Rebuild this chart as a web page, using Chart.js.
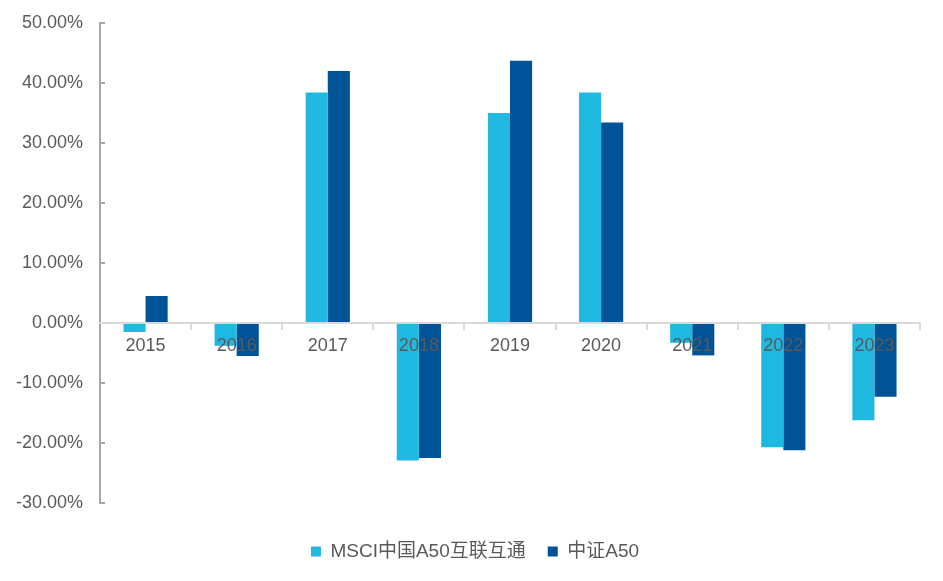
<!DOCTYPE html>
<html>
<head>
<meta charset="utf-8">
<script src="https://cdn.jsdelivr.net/npm/chart.js@4"></script>
<style>
html,body{margin:0;padding:0;background:#fff;}
#wrap{width:943px;height:581px;position:relative;}
</style>
</head>
<body>
<div id="wrap"><canvas id="c" width="943" height="581"></canvas></div>
<script>
const categories = ['2015','2016','2017','2018','2019','2020','2021','2022','2023'];
const msciA50 = [-1.5, -3.8, 38.4, -22.9, 35.0, 38.4, -3.3, -20.7, -16.2];
const csiA50 = [4.5, -5.5, 42.0, -22.5, 43.7, 33.4, -5.4, -21.2, -12.3];
const seriesNames = ['MSCI中国A50互联互通', '中证A50'];
const yTicks = [-30, -20, -10, 0, 10, 20, 30, 40, 50];

const font = {family: '"Liberation Sans", Arial, sans-serif', size: 18};
const legendFont = {family: '"Liberation Sans", Arial, "Noto Sans CJK SC", sans-serif', size: 19};
Chart.defaults.font = font;
Chart.defaults.color = '#595959';

new Chart(document.getElementById('c'), {
  type: 'bar',
  data: {
    labels: categories,
    datasets: [
      {label: seriesNames[0], data: msciA50, backgroundColor: '#1FB8E0', categoryPercentage: 0.485, barPercentage: 1},
      {label: seriesNames[1], data: csiA50, backgroundColor: '#005396', categoryPercentage: 0.485, barPercentage: 1}
    ]
  },
  options: {
    responsive: false,
    animation: false,
    layout: {padding: {top: 23, right: 0, left: 7, bottom: 10}},
    plugins: {
      legend: {
        position: 'bottom',
        labels: {boxWidth: 10, boxHeight: 10, padding: 22, font: legendFont, color: '#595959'}
      },
      tooltip: {enabled: false}
    },
    scales: {
      x: {
        position: {y: 0},
        offset: true,
        grid: {offset: true, drawOnChartArea: false, drawTicks: true, tickLength: 6, color: '#d9d9d9', lineWidth: 2},
        border: {color: '#d9d9d9', width: 2, z: 1},
        ticks: {padding: 6, font: font, color: '#595959', maxRotation: 0, z: 1}
      },
      x2: {
        type: 'linear',
        position: 'bottom',
        grid: {display: false},
        border: {display: false},
        ticks: {display: false},
        afterFit: (s) => { s.height = 17; }
      },
      y: {
        min: -30, max: 50,
        afterBuildTicks: (s) => { s.ticks = yTicks.map(v => ({value: v})); },
        afterFit: (s) => { s.width = 93; s.paddingTop = 11; s.paddingBottom = 11; },
        grid: {drawOnChartArea: false, drawTicks: true, tickLength: -5, color: '#a6a6a6', lineWidth: 2},
        border: {color: '#a6a6a6', width: 2},
        ticks: {padding: 22, font: font, color: '#595959', callback: (v) => v.toFixed(2) + '%'}
      },
      y2: {
        type: 'linear',
        position: 'right',
        grid: {display: false},
        border: {display: false},
        ticks: {display: false},
        afterFit: (s) => { s.width = 23; }
      }
    }
  }
});
</script>
</body>
</html>
